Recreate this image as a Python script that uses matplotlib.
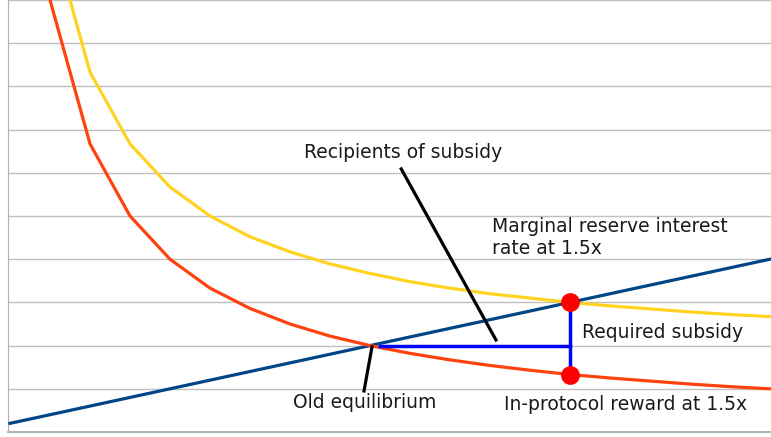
import numpy as np
import matplotlib
matplotlib.use("Agg")
import matplotlib.pyplot as plt

# stake ratio index (category positions)
n = [1, 2, 3, 4, 5, 6, 7, 8, 9, 10, 11, 12, 13, 14, 15, 16, 17, 18, 19, 20]

# in-protocol reward (orange-red)
reward = [20.0, 10.0, 6.67, 5.0, 4.0, 3.33, 2.86, 2.5, 2.22, 2.0,
          1.82, 1.67, 1.54, 1.43, 1.33, 1.25, 1.18, 1.11, 1.05, 1.0]
# marginal reserve interest rate at 1.5x (yellow)
marginal = [21.67, 11.67, 8.33, 6.67, 5.67, 5.0, 4.52, 4.17, 3.89, 3.67,
            3.48, 3.33, 3.2, 3.1, 3.0, 2.92, 2.85, 2.78, 2.72, 2.67]
# supply curve (dark blue)
supply = [0.2, 0.4, 0.6, 0.8, 1.0, 1.2, 1.4, 1.6, 1.8, 2.0,
          2.2, 2.4, 2.6, 2.8, 3.0, 3.2, 3.4, 3.6, 3.8, 4.0]

# annotation points
eq_n, eq_y = 10.25, 2.0
new_n, new_top, new_bot = 15, 3.0, 1.33

W, H = 771, 437
fig = plt.figure(figsize=(W / 100, H / 100), dpi=100)
ax = fig.add_axes([8 / W, 5 / H, 1 - 8 / W, 432 / H])

ax.set_xlim(0.95, 20.025)
ax.set_ylim(0, 10)
for y in range(1, 11):
    ax.axhline(y, color="#c0c0c0", lw=1, zorder=0)

ax.plot(n, supply, color="#004586", lw=2.3, zorder=3)
ax.plot(n, reward, color="#ff420e", lw=2.3, zorder=3)
ax.plot(n, marginal, color="#ffd320", lw=2.3, zorder=2)

# required subsidy bracket
ax.plot([eq_n, new_n], [eq_y, eq_y], color="#0000ff", lw=2.5, zorder=4)
ax.plot([new_n, new_n], [new_bot, new_top], color="#0000ff", lw=2.5, zorder=4)
ax.plot([new_n, new_n], [new_top, new_bot], "o", color="#ff0000",
        ms=12.5, zorder=5)

# pointer lines
ax.plot([10.78, 13.15], [6.09, 2.13], color="black", lw=2.3, zorder=4)
ax.plot([10.05, 9.85], [1.97, 0.95], color="black", lw=2.3, zorder=4)

for s in ["top", "right"]:
    ax.spines[s].set_visible(False)
ax.spines["left"].set_color("#b3b3b3")
ax.spines["bottom"].set_color("#b3b3b3")
ax.spines["bottom"].set_linewidth(1.5)
ax.set_xticks([])
ax.set_yticks([])

def px(x, y):
    return ((x + 30) / 40, (432 - y) / 43.2)

kw = dict(fontsize=13.5, color="#1a1a1a", va="center", ha="left",
          family="DejaVu Sans", zorder=6)
ax.text(*px(304, 153), "Recipients of subsidy", **kw)
ax.text(*px(492, 226), "Marginal reserve interest", **kw)
ax.text(*px(492, 249), "rate at 1.5x", **kw)
ax.text(*px(582, 333), "Required subsidy", **kw)
ax.text(*px(293, 403), "Old equilibrium", clip_on=False, **kw)
ax.text(*px(504, 405), "In-protocol reward at 1.5x", clip_on=False, **kw)

fig.savefig("out.png", dpi=100)
